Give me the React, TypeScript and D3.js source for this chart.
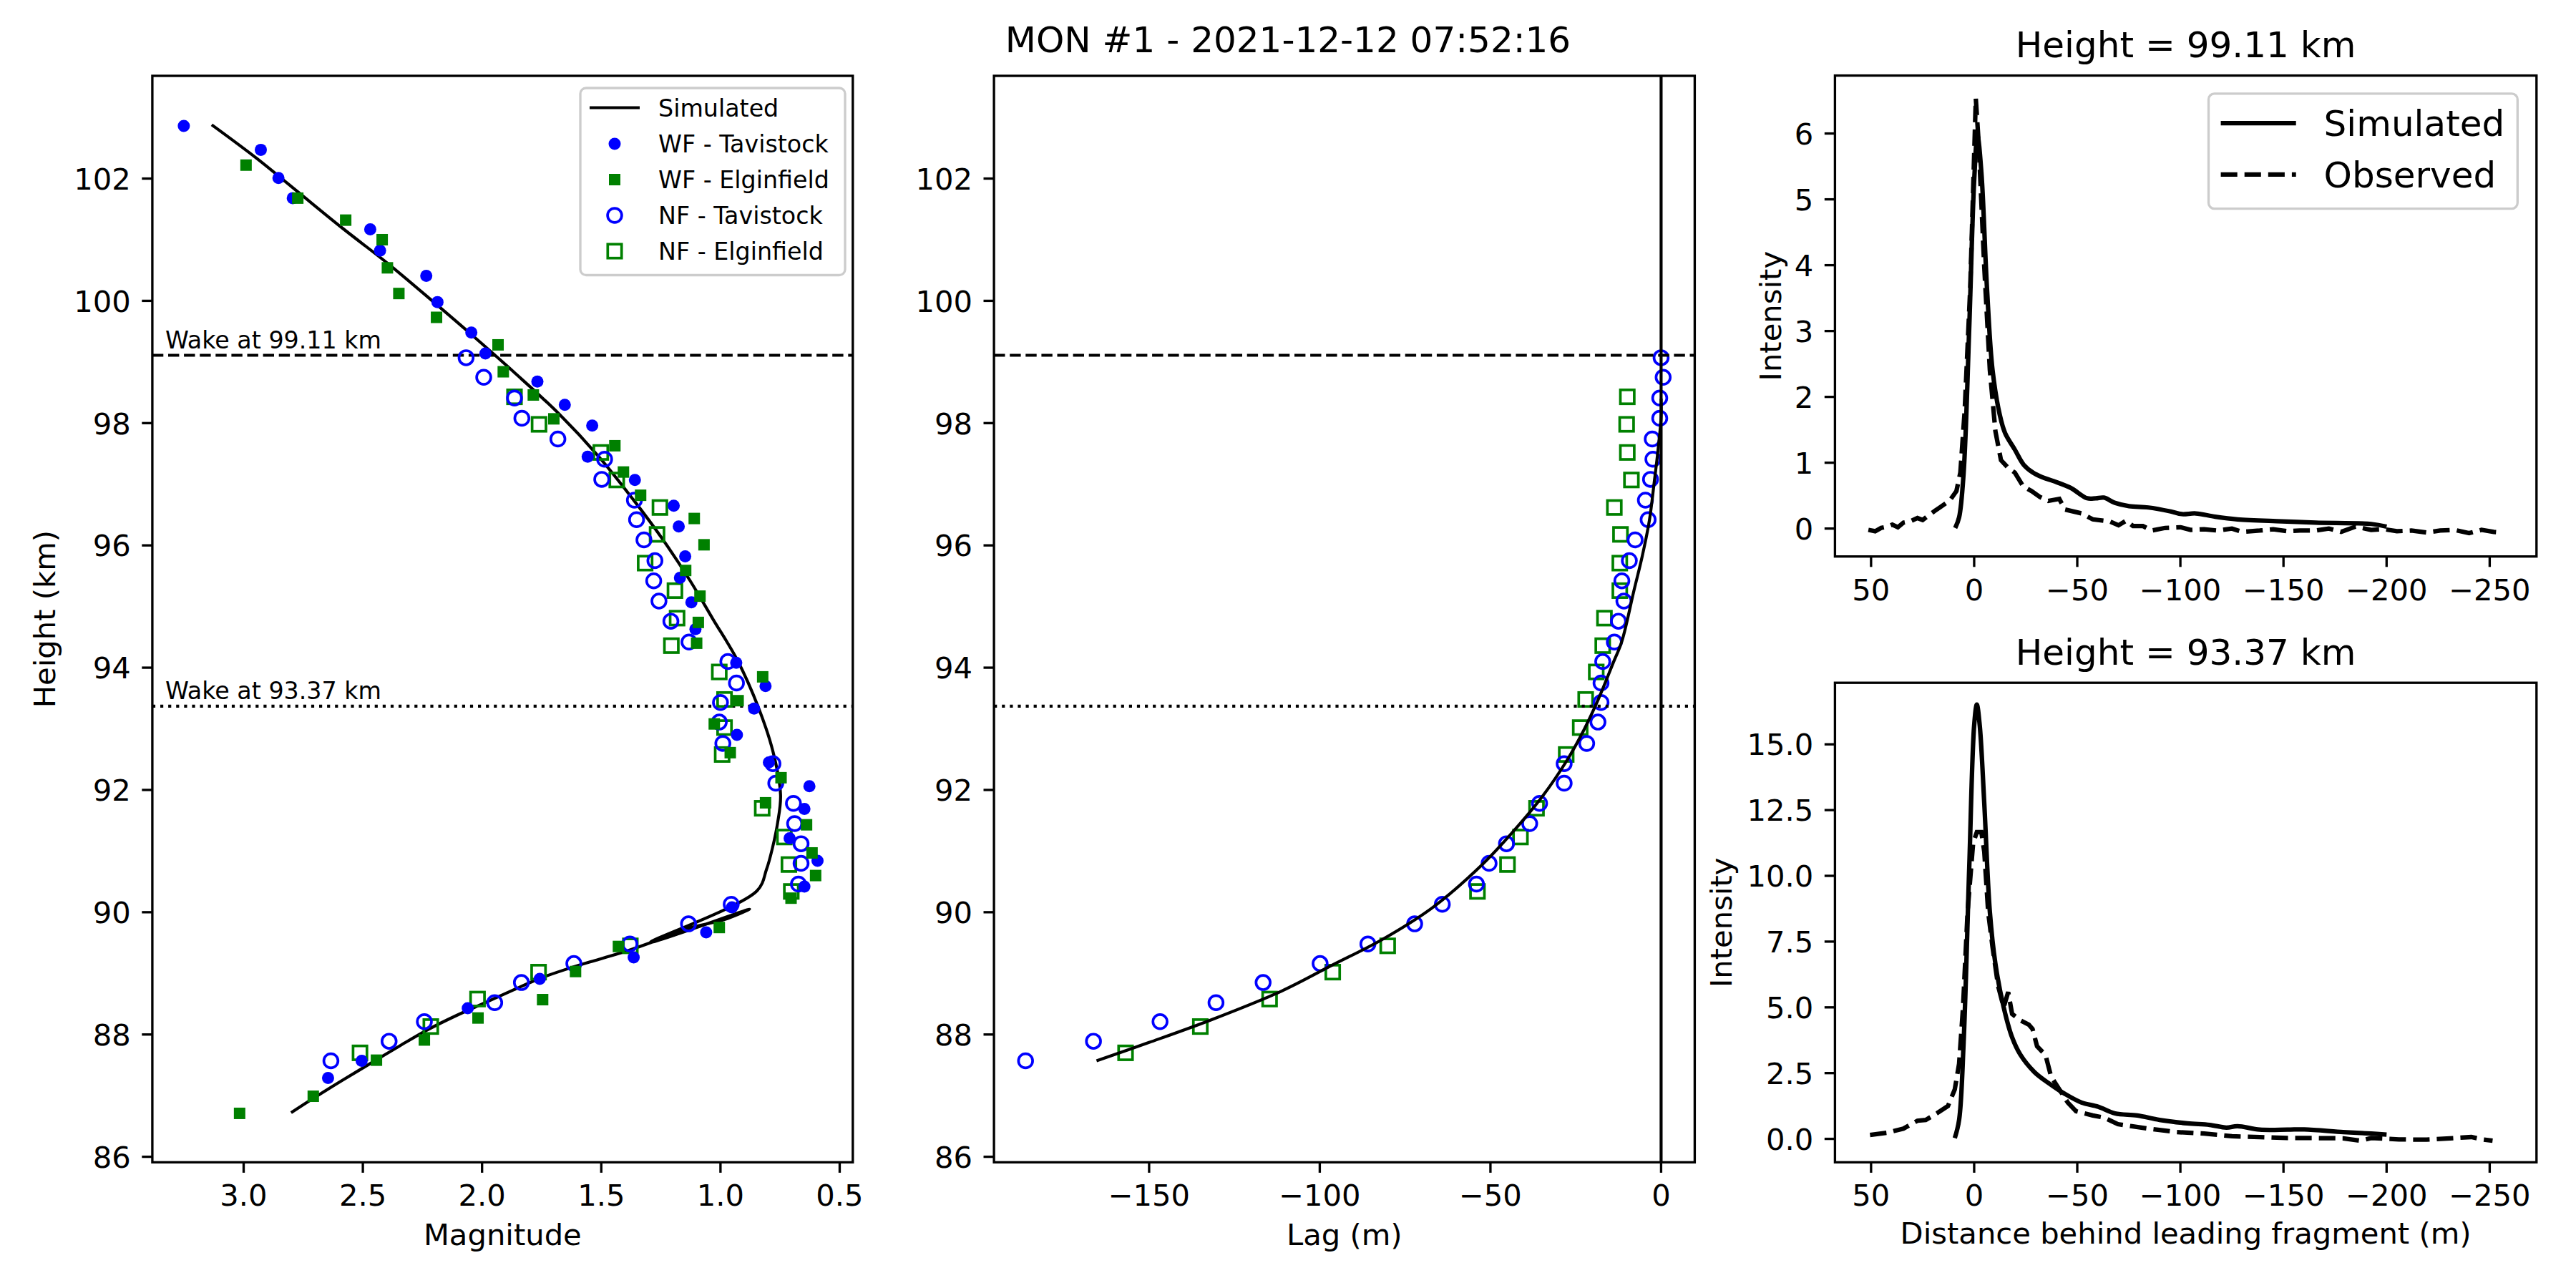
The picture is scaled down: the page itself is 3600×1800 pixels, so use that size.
import * as d3 from "d3";

const FONT = "'DejaVu Sans', sans-serif";

// ---- left panel: magnitude vs height ----
const simMag = [3.134, 2.945, 2.778, 2.586, 2.395, 2.203, 2.036, 1.868, 1.677, 1.51, 1.366, 1.246, 1.127, 1.031, 0.93, 0.84, 0.78, 0.748, 0.76, 0.782, 0.807, 0.847, 1.294, 0.878, 0.983, 1.151, 1.294, 1.39, 1.51, 1.629, 1.749, 1.868, 1.988, 2.108, 2.227, 2.347, 2.467, 2.586, 2.706, 2.801];
const simHeight = [102.88, 102.33, 101.8, 101.19, 100.61, 99.98, 99.42, 98.84, 98.15, 97.45, 96.75, 96.12, 95.42, 94.79, 94.13, 93.34, 92.63, 91.92, 91.47, 91.05, 90.7, 90.35, 89.51, 90.05, 89.88, 89.72, 89.5, 89.37, 89.23, 89.09, 88.93, 88.73, 88.52, 88.31, 88.08, 87.81, 87.53, 87.25, 86.96, 86.72];

const wfTavMag = [3.251, 2.928, 2.854, 2.794, 2.469, 2.428, 2.234, 2.187, 2.045, 1.986, 1.768, 1.653, 1.538, 1.557, 1.359, 1.196, 1.175, 1.148, 1.17, 1.122, 1.105, 0.934, 0.811, 0.859, 0.931, 0.797, 0.627, 0.648, 0.71, 0.593, 0.648, 0.952, 1.06, 1.364, 1.758, 2.06, 2.505, 2.646];
const wfTavHeight = [102.86, 102.47, 102.01, 101.68, 101.17, 100.82, 100.41, 99.98, 99.48, 99.14, 98.68, 98.3, 97.96, 97.45, 97.07, 96.65, 96.31, 95.82, 95.47, 95.07, 94.63, 94.08, 93.7, 93.33, 92.9, 92.45, 92.06, 91.69, 91.21, 90.84, 90.42, 90.08, 89.67, 89.26, 88.91, 88.43, 87.57, 87.29];

const wfElgMag = [2.99, 2.773, 2.572, 2.419, 2.397, 2.349, 2.191, 1.933, 1.911, 1.785, 1.699, 1.443, 1.407, 1.335, 1.11, 1.069, 1.146, 1.086, 1.093, 1.1, 0.823, 0.926, 1.026, 0.959, 0.746, 0.811, 0.639, 0.616, 0.601, 0.704, 1.005, 1.428, 1.608, 1.746, 2.017, 2.242, 2.443, 2.708, 3.017];
const wfElgHeight = [102.22, 101.68, 101.32, 101.0, 100.54, 100.12, 99.73, 99.28, 98.84, 98.46, 98.07, 97.63, 97.2, 96.82, 96.44, 96.01, 95.59, 95.17, 94.74, 94.4, 93.85, 93.46, 93.08, 92.61, 92.2, 91.79, 91.43, 90.97, 90.6, 90.23, 89.75, 89.44, 89.03, 88.57, 88.27, 87.91, 87.58, 86.99, 86.71];

const nfTavHeight = [99.07, 98.75, 98.41, 98.08, 97.74, 97.41, 97.08, 96.74, 96.42, 96.09, 95.75, 95.42, 95.09, 94.76, 94.42, 94.1, 93.75, 93.43, 93.11, 92.76, 92.43, 92.11, 91.78, 91.45, 91.12, 90.8, 90.46, 90.13, 89.81, 89.48, 89.16, 88.85, 88.52, 88.21, 87.89, 87.57];
const nfTavMag = [2.067, 1.993, 1.864, 1.833, 1.682, 1.486, 1.498, 1.361, 1.352, 1.321, 1.275, 1.28, 1.258, 1.208, 1.132, 0.969, 0.933, 1.0, 1.005, 0.99, 0.78, 0.768, 0.694, 0.689, 0.662, 0.662, 0.673, 0.955, 1.134, 1.38, 1.615, 1.835, 1.947, 2.242, 2.39, 2.634];
const nfTavLag = [0.0, 0.6, -0.4, -0.4, -2.6, -2.4, -3.1, -4.6, -3.8, -7.6, -9.3, -11.5, -10.9, -12.5, -13.7, -17.1, -17.6, -17.6, -18.5, -21.8, -28.4, -28.4, -35.6, -38.5, -45.3, -50.4, -54.1, -64.1, -72.2, -85.9, -99.9, -116.6, -130.4, -146.8, -166.3, -186.2];

const nfElgHeight = [98.43, 97.98, 97.52, 97.07, 96.62, 96.18, 95.71, 95.26, 94.81, 94.36, 93.93, 93.48, 93.02, 92.58, 91.7, 91.23, 90.78, 90.34, 89.45, 89.02, 88.58, 88.13, 87.7];
const nfElgMag = [1.864, 1.761, 1.502, 1.435, 1.254, 1.266, 1.316, 1.191, 1.182, 1.206, 1.005, 0.983, 0.983, 0.993, 0.825, 0.732, 0.713, 0.703, 1.378, 1.763, 2.019, 2.215, 2.512];
const nfElgLag = [-9.9, -10.1, -9.9, -8.7, -13.7, -11.9, -12.1, -12.1, -16.6, -17.1, -19.0, -22.1, -23.7, -27.8, -36.5, -41.2, -45.0, -53.8, -80.1, -96.2, -114.7, -135.0, -156.9];

// ---- middle panel: simulated lag ----
const lagSim = [-165.4, -150.0, -131.8, -111.2, -96.5, -81.8, -67.1, -52.4, -43.5, -34.7, -27.4, -22.9, -18.5, -14.1, -11.5, -8.0, -5.5, -3.4, -2.0, -1.0, 0.0, 0.0];
const lagSimHeight = [87.57, 87.87, 88.24, 88.71, 89.13, 89.55, 90.07, 90.78, 91.31, 91.9, 92.5, 92.95, 93.47, 94.07, 94.43, 95.25, 95.83, 96.42, 97.04, 97.51, 98.1, 98.4];

const wakeHeights = [99.11, 93.37];

// ---- right panels: wake profiles ----
const topSimDist = [9.2, 7.3, 5.1, 2.4, 0.0, -1.6, -3.5, -6.2, -8.9, -12.4, -15.0, -19.7, -24.0, -28.5, -33.0, -38.6, -46.7, -54.8, -59.0, -62.9, -68.3, -75.1, -84.5, -95.3, -100.7, -107.5, -116.9, -127.7, -149.3, -165.5, -192.5, -200.0];
const topSimInt = [0.01, 0.17, 0.85, 3.04, 5.28, 5.97, 5.41, 3.66, 2.41, 1.73, 1.45, 1.2, 0.97, 0.85, 0.78, 0.72, 0.62, 0.46, 0.46, 0.47, 0.39, 0.34, 0.32, 0.26, 0.22, 0.23, 0.18, 0.14, 0.11, 0.09, 0.07, 0.03];
const topObsDist = [51.3, 48, 45.1, 42, 39.7, 37, 34.3, 31, 27.5, 25, 22.1, 19, 16.7, 13, 11.3, 8.6, 6.7, 4.6, 1.9, -0.8, -2.2, -4.9, -7.6, -10.3, -13.0, -16.5, -19.7, -23.8, -27.8, -31.9, -35.9, -41.3, -44.0, -52.1, -57.5, -65.6, -70, -73.7, -77, -81.8, -86, -92.6, -100, -105, -111.5, -118, -125, -130, -138.5, -145, -152, -158, -165.5, -172, -178, -185, -192.5, -199, -205, -212, -219.5, -226, -233, -240, -246, -252, -256];
const topObsInt = [-0.02, -0.04, 0.01, 0.03, 0.06, 0.02, 0.09, 0.11, 0.16, 0.13, 0.2, 0.27, 0.32, 0.4, 0.45, 0.57, 0.85, 1.79, 3.66, 6.53, 5.85, 3.97, 2.41, 1.48, 1.04, 0.92, 0.85, 0.64, 0.57, 0.48, 0.42, 0.45, 0.29, 0.23, 0.14, 0.11, 0.05, 0.12, 0.04, 0.04, -0.03, 0.01, 0.02, -0.02, -0.01, -0.03, 0.0, -0.05, -0.03, -0.01, -0.04, -0.03, -0.03, 0.0, -0.05, 0.03, -0.02, -0.01, -0.04, -0.03, -0.06, -0.03, -0.02, -0.07, -0.02, -0.05, -0.06];

const botSimDist = [9.4, 7.3, 5.1, 2.4, 0.0, -1.3, -2.7, -4.9, -7.6, -10.3, -14.3, -18.4, -22.4, -29.2, -35.9, -44.0, -52.1, -60.2, -68.3, -79.1, -89.9, -103.4, -114.2, -122.3, -127.7, -138.5, -152.0, -160.1, -179.0, -192.5, -200.0];
const botSimInt = [0.03, 0.72, 3.69, 10.28, 15.72, 16.51, 15.72, 12.76, 8.64, 6.66, 5.01, 3.86, 3.2, 2.54, 2.13, 1.71, 1.38, 1.22, 0.97, 0.89, 0.72, 0.59, 0.53, 0.43, 0.48, 0.35, 0.35, 0.36, 0.26, 0.2, 0.16];
const botObsDist = [50.5, 42.4, 34.3, 27.5, 23.5, 18.1, 12.7, 9.4, 7.3, 5.4, 3.2, 0.5, -1.3, -3.5, -4.9, -6.8, -8.9, -11.6, -14.3, -16.5, -18.4, -22.4, -26.5, -28.3, -30.5, -34.6, -37.3, -41.3, -45.4, -49.4, -57.5, -62.9, -69.7, -76.4, -84.5, -98.0, -111.5, -125.0, -138.5, -152.0, -165.5, -179.0, -187.1, -192.5, -206.0, -219.5, -233.0, -241.1, -246.5, -251.4];
const botObsInt = [0.15, 0.23, 0.39, 0.69, 0.72, 0.97, 1.25, 1.88, 2.86, 5.0, 8.62, 11.25, 11.66, 11.66, 10.92, 8.62, 7.3, 5.82, 5.0, 5.58, 4.75, 4.51, 4.34, 4.18, 3.52, 3.19, 2.37, 1.88, 1.38, 1.05, 0.89, 0.81, 0.56, 0.48, 0.39, 0.26, 0.2, 0.1, 0.07, 0.03, 0.03, 0.02, -0.07, 0.03, -0.02, -0.03, 0.03, 0.07, -0.02, -0.07];

// ---- ticks ----
const heightTicks = [86, 88, 90, 92, 94, 96, 98, 100, 102];
const magTicks = [3.0, 2.5, 2.0, 1.5, 1.0, 0.5];
const lagTicks = [-150, -100, -50, 0];
const distTicks = [50, 0, -50, -100, -150, -200, -250];
const topIntTicks = [0, 1, 2, 3, 4, 5, 6];
const botIntTicks = [0, 2.5, 5, 7.5, 10, 12.5, 15];

const zip = (a: number[], b: number[]) => a.map((v, i) => [v, b[i]] as [number, number]);
const fmt = (v: number, digits = 0) =>
  (v < 0 ? "\u2212" : "") + Math.abs(v).toFixed(digits);

const TICK_FS = 41.7;
const SPINE = 3.33;

type Box = { x0: number; x1: number; y0: number; y1: number };

function Axes({ box, xs, ys, xt, yt, xd = 0, yd = 0 }: any) {
  return (
    <g>
      <rect x={box.x0} y={box.y0} width={box.x1 - box.x0} height={box.y1 - box.y0}
        fill="none" stroke="#000" strokeWidth={SPINE} />
      {xt.map((t: number) => (
        <g key={"x" + t}>
          <line x1={xs(t)} x2={xs(t)} y1={box.y1} y2={box.y1 + 14.6} stroke="#000" strokeWidth={SPINE} />
          <text x={xs(t)} y={box.y1 + 61} textAnchor="middle" fontSize={TICK_FS}>{fmt(t, xd)}</text>
        </g>
      ))}
      {yt.map((t: number) => (
        <g key={"y" + t}>
          <line x1={box.x0 - 14.6} x2={box.x0} y1={ys(t)} y2={ys(t)} stroke="#000" strokeWidth={SPINE} />
          <text x={box.x0 - 30} y={ys(t) + 15.2} textAnchor="end" fontSize={TICK_FS}>{fmt(t, yd)}</text>
        </g>
      ))}
    </g>
  );
}

function WakeLines({ box, ys }: { box: Box; ys: d3.ScaleLinear<number, number> }) {
  return (
    <g>
      <line x1={box.x0} x2={box.x1} y1={ys(wakeHeights[0])} y2={ys(wakeHeights[0])}
        stroke="#000" strokeWidth={4.17} strokeDasharray="15.4 6.7" />
      <line x1={box.x0} x2={box.x1} y1={ys(wakeHeights[1])} y2={ys(wakeHeights[1])}
        stroke="#000" strokeWidth={4.17} strokeDasharray="4.2 6.9" />
    </g>
  );
}

const Dot = ({ x, y }: { x: number; y: number }) => <circle cx={x} cy={y} r={8.5} fill="#0000ff" />;
const Sq = ({ x, y }: { x: number; y: number }) => <rect x={x - 8} y={y - 8} width={16} height={16} fill="#008000" />;
const ODot = ({ x, y }: { x: number; y: number }) => (
  <circle cx={x} cy={y} r={9.9} fill="none" stroke="#0000ff" strokeWidth={3.7} />
);
const OSq = ({ x, y }: { x: number; y: number }) => (
  <rect x={x - 9.7} y={y - 9.7} width={19.4} height={19.4} fill="none" stroke="#008000" strokeWidth={3.7} />
);

function MagnitudePanel() {
  const box: Box = { x0: 212.9, x1: 1191.8, y0: 106, y1: 1624.3 };
  const xs = d3.scaleLinear().domain([3.383, 0.445]).range([box.x0, box.x1]);
  const ys = d3.scaleLinear().domain([85.91, 103.68]).range([box.y1, box.y0]);
  const line = d3.line<[number, number]>().x((d) => xs(d[0])).y((d) => ys(d[1]))
    .curve(d3.curveCatmullRom.alpha(0.5));
  const legendRows = ["Simulated", "WF - Tavistock", "WF - Elginfield", "NF - Tavistock", "NF - Elginfield"];
  const rowY = [150.5, 201, 251, 301, 351];
  return (
    <g>
      <WakeLines box={box} ys={ys} />
      <text x={231} y={ys(wakeHeights[0]) - 9.5} fontSize={33.3}>Wake at 99.11 km</text>
      <text x={231} y={ys(wakeHeights[1]) - 9.5} fontSize={33.3}>Wake at 93.37 km</text>
      <path d={line(zip(simMag, simHeight)) ?? ""} fill="none" stroke="#000" strokeWidth={4.17} />
      {zip(nfElgMag, nfElgHeight).map((d, i) => <OSq key={"ne" + i} x={xs(d[0])} y={ys(d[1])} />)}
      {zip(nfTavMag, nfTavHeight).map((d, i) => <ODot key={"nt" + i} x={xs(d[0])} y={ys(d[1])} />)}
      {zip(wfTavMag, wfTavHeight).map((d, i) => <Dot key={"wt" + i} x={xs(d[0])} y={ys(d[1])} />)}
      {zip(wfElgMag, wfElgHeight).map((d, i) => <Sq key={"we" + i} x={xs(d[0])} y={ys(d[1])} />)}
      <Axes box={box} xs={xs} ys={ys} xt={magTicks} yt={heightTicks} xd={1} />
      <text x={77} y={(box.y0 + box.y1) / 2} transform={`rotate(-90 77 ${(box.y0 + box.y1) / 2})`}
        textAnchor="middle" fontSize={TICK_FS}>Height (km)</text>
      <text x={(box.x0 + box.x1) / 2} y={1740} textAnchor="middle" fontSize={TICK_FS}>Magnitude</text>
      <g>
        <rect x={811} y={123} width={370} height={261.5} rx={8} fill="#fff" fillOpacity={0.8}
          stroke="#cccccc" strokeWidth={3.33} />
        <line x1={824} x2={894} y1={rowY[0]} y2={rowY[0]} stroke="#000" strokeWidth={4.17} />
        <Dot x={859} y={rowY[1]} />
        <Sq x={859} y={rowY[2]} />
        <ODot x={859} y={rowY[3]} />
        <OSq x={859} y={rowY[4]} />
        {legendRows.map((t, i) => (
          <text key={t} x={920} y={rowY[i] + 12.2} fontSize={33.3}>{t}</text>
        ))}
      </g>
    </g>
  );
}

function LagPanel() {
  const box: Box = { x0: 1389.1, x1: 2368.4, y0: 106, y1: 1624.3 };
  const xs = d3.scaleLinear().domain([-195.45, 9.85]).range([box.x0, box.x1]);
  const ys = d3.scaleLinear().domain([85.91, 103.68]).range([box.y1, box.y0]);
  const line = d3.line<[number, number]>().x((d) => xs(d[0])).y((d) => ys(d[1]))
    .curve(d3.curveCatmullRom.alpha(0.5));
  return (
    <g>
      {zip(nfElgLag, nfElgHeight).map((d, i) => <OSq key={"ne" + i} x={xs(d[0])} y={ys(d[1])} />)}
      {zip(nfTavLag, nfTavHeight).map((d, i) => <ODot key={"nt" + i} x={xs(d[0])} y={ys(d[1])} />)}
      <path d={line(zip(lagSim, lagSimHeight)) ?? ""} fill="none" stroke="#000" strokeWidth={4.17} />
      <line x1={xs(0)} x2={xs(0)} y1={box.y0} y2={box.y1} stroke="#000" strokeWidth={4.17} />
      <WakeLines box={box} ys={ys} />
      <Axes box={box} xs={xs} ys={ys} xt={lagTicks} yt={heightTicks} />
      <text x={(box.x0 + box.x1) / 2} y={1740} textAnchor="middle" fontSize={TICK_FS}>Lag (m)</text>
    </g>
  );
}

function ProfilePanel({ box, yDomain, yTicks, yDigits, simX, simY, obsX, obsY, title, labelX, legend, xlabel }: any) {
  const xs = d3.scaleLinear().domain([67.5, -272.7]).range([box.x0, box.x1]);
  const ys = d3.scaleLinear().domain(yDomain).range([box.y1, box.y0]);
  const smooth = d3.line<[number, number]>().x((d) => xs(d[0])).y((d) => ys(d[1]))
    .curve(d3.curveCatmullRom.alpha(0.5));
  const plain = d3.line<[number, number]>().x((d) => xs(d[0])).y((d) => ys(d[1]));
  const cy = (box.y0 + box.y1) / 2;
  return (
    <g>
      <path d={smooth(zip(simX, simY)) ?? ""} fill="none" stroke="#000" strokeWidth={6.25} strokeLinejoin="round" />
      <path d={plain(zip(obsX, obsY)) ?? ""} fill="none" stroke="#000" strokeWidth={6.25}
        strokeDasharray="23.1 10" />
      <Axes box={box} xs={xs} ys={ys} xt={distTicks} yt={yTicks} yd={yDigits} />
      <text x={(box.x0 + box.x1) / 2} y={box.y0 - 25.2} textAnchor="middle" fontSize={50}>{title}</text>
      <text x={labelX} y={cy} transform={`rotate(-90 ${labelX} ${cy})`} textAnchor="middle"
        fontSize={TICK_FS}>Intensity</text>
      {xlabel && (
        <text x={(box.x0 + box.x1) / 2} y={1738} textAnchor="middle" fontSize={TICK_FS}>{xlabel}</text>
      )}
      {legend && (
        <g>
          <rect x={3086.5} y={130.9} width={431.8} height={160.7} rx={8} fill="#fff" fillOpacity={0.8}
            stroke="#cccccc" strokeWidth={3.33} />
          <line x1={3103.6} x2={3208.7} y1={172.2} y2={172.2} stroke="#000" strokeWidth={6.25} />
          <line x1={3103.6} x2={3208.7} y1={243.9} y2={243.9} stroke="#000" strokeWidth={6.25}
            strokeDasharray="23.1 10" />
          <text x={3247.6} y={172.2 + 18.2} fontSize={50}>Simulated</text>
          <text x={3247.6} y={243.9 + 18.2} fontSize={50}>Observed</text>
        </g>
      )}
    </g>
  );
}

export default function App() {
  return (
    <svg width={3600} height={1800} viewBox="0 0 3600 1800"
      style={{ position: "absolute", left: 0, top: 0, background: "#fff", fontFamily: FONT }}>
      <rect x={0} y={0} width={3600} height={1800} fill="#fff" />
      <text x={1800} y={73.3} textAnchor="middle" fontSize={50}>MON #1 - 2021-12-12 07:52:16</text>
      <MagnitudePanel />
      <LagPanel />
      <ProfilePanel box={{ x0: 2564.4, x1: 3544.8, y0: 105.6, y1: 777.7 }} yDomain={[-0.424, 6.88]}
        yTicks={topIntTicks} yDigits={0} simX={topSimDist} simY={topSimInt} obsX={topObsDist} obsY={topObsInt}
        title="Height = 99.11 km" labelX={2489} legend />
      <ProfilePanel box={{ x0: 2564.4, x1: 3544.8, y0: 954.2, y1: 1624.3 }} yDomain={[-0.89, 17.34]}
        yTicks={botIntTicks} yDigits={1} simX={botSimDist} simY={botSimInt} obsX={botObsDist} obsY={botObsInt}
        title="Height = 93.37 km" labelX={2420} xlabel="Distance behind leading fragment (m)" />
    </svg>
  );
}
